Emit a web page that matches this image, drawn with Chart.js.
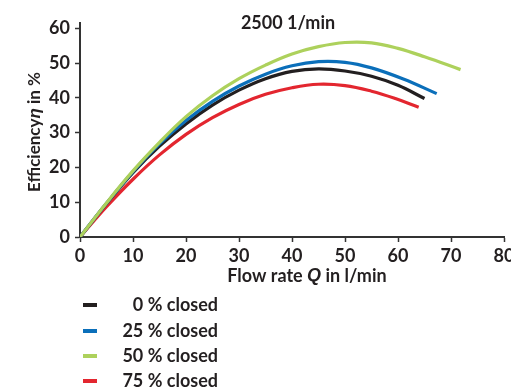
<!DOCTYPE html>
<html>
<head>
<meta charset="utf-8">
<script src="https://cdn.jsdelivr.net/npm/chart.js@4/dist/chart.umd.min.js"></script>
<style>
html,body{margin:0;padding:0;background:#fff;}
#wrap{width:511px;height:387px;position:relative;}
</style>
</head>
<body>
<div id="wrap"><canvas id="c" width="511" height="387"></canvas></div>
<script>
const chartTitle = "2500 1/min";
const seriesLabels = ["0 % closed", "25 % closed", "50 % closed", "75 % closed"];
const seriesColors = ["#231f20", "#0b6fba", "#add15c", "#e3262f"];
const xTicks = [0, 10, 20, 30, 40, 50, 60, 70, 80];
const yTicks = [0, 10, 20, 30, 40, 50, 60];

const qClosed0   = [0, 5, 10, 15, 20, 25, 30, 35, 40, 45, 50, 55, 60, 65];
const etaClosed0 = [0, 9.6, 18.5, 26.1, 32.5, 37.9, 42.2, 45.5, 47.6, 48.3, 47.7, 46.2, 43.6, 39.8];

const qClosed25   = [0, 5, 10, 15, 20, 25, 30, 35, 40, 45, 50, 55, 61, 67.3];
const etaClosed25 = [0, 9.7, 18.8, 26.8, 33.5, 39.0, 43.4, 46.8, 49.2, 50.4, 50.2, 48.6, 45.4, 41.2];

const qClosed50   = [0, 5, 10, 15, 20, 25, 30, 35, 40, 45, 50, 55, 60, 65, 71.8];
const etaClosed50 = [0, 9.8, 19.0, 27.2, 34.6, 40.6, 45.5, 49.4, 52.6, 54.7, 55.9, 55.8, 54.2, 51.8, 48.1];

const qClosed75   = [0, 5, 10, 15, 20, 25, 30, 35, 40, 45, 50, 55, 59.5, 63.9];
const etaClosed75 = [0, 8.7, 16.6, 23.6, 29.5, 34.3, 38.1, 41.0, 42.9, 43.9, 43.5, 41.9, 39.8, 37.3];

const qSets = [qClosed0, qClosed25, qClosed50, qClosed75];
const etaSets = [etaClosed0, etaClosed25, etaClosed50, etaClosed75];

const FONT = "Lato, 'Open Sans', sans-serif";
const IFONT = "'Liberation Sans', 'DejaVu Sans', sans-serif";
const TXT = "#231f20";

const order = [2, 1, 0, 3];
const datasets = order.map(i => ({
  label: seriesLabels[i],
  data: qSets[i].map((q, k) => ({x: q, y: etaSets[i][k]})),
  borderColor: seriesColors[i],
  backgroundColor: seriesColors[i],
  borderWidth: 3.2,
  pointRadius: 0,
  fill: false,
  tension: 0.4,
  borderCapStyle: 'butt'
}));

function drawRuns(ctx, runs, x, y, align) {
  let total = 0;
  runs.forEach(r => { ctx.font = r.f; total += ctx.measureText(r.t).width; });
  let cx = align === 'center' ? x - total / 2 : (align === 'right' ? x - total : x);
  ctx.textAlign = 'left';
  runs.forEach(r => { ctx.font = r.f; ctx.fillText(r.t, cx, y); cx += ctx.measureText(r.t).width; });
}

const decor = {
  id: 'decor',
  afterDraw(chart) {
    const ctx = chart.ctx, a = chart.chartArea;
    ctx.save();
    ctx.fillStyle = TXT;
    ctx.textBaseline = 'middle';
    ctx.font = "bold 18px " + FONT;
    ctx.textAlign = 'center';
    ctx.fillText(chartTitle, (a.left + a.right) / 2 - 4, a.top);
    const B = "bold 18px " + FONT, BI = "italic bold 18px " + IFONT;
    drawRuns(ctx, [{t: "Flow rate ", f: B}, {t: "Q", f: BI}, {t: " in l/min", f: B}], 307, a.bottom + 39, 'center');
    ctx.save();
    ctx.translate(35, (a.top + a.bottom) / 2 + 2);
    ctx.rotate(-Math.PI / 2);
    const B2 = "bold 17px " + FONT, BI2 = "italic bold 17px " + IFONT;
    drawRuns(ctx, [{t: "Efficiency", f: B2}, {t: "η", f: BI2}, {t: " in %", f: B2}], 0, 0, 'center');
    ctx.restore();
    const ys = [305, 331, 356, 381];
    for (let i = 0; i < 4; i++) {
      ctx.fillStyle = seriesColors[i];
      ctx.fillRect(83, ys[i] - 2, 14, 4);
      ctx.fillStyle = TXT;
      ctx.font = B;
      ctx.textAlign = 'right';
      ctx.fillText(seriesLabels[i], 218, ys[i]);
    }
    ctx.restore();
  }
};

new Chart(document.getElementById('c'), {
  type: 'line',
  data: { datasets },
  options: {
    responsive: false,
    animation: false,
    layout: { padding: { top: 23, right: 7, bottom: 0, left: 0 } },
    plugins: { legend: { display: false }, tooltip: { enabled: false } },
    scales: {
      x: {
        type: 'linear', min: 0, max: 80,
        afterFit(s) { s.height = 150; s.paddingRight = 0; s.paddingLeft = 0; },
        afterBuildTicks(s) { s.ticks = xTicks.map(v => ({value: v})); },
        border: { display: true, color: '#333', width: 2 },
        grid: { display: true, drawOnChartArea: false, drawTicks: true, tickLength: 5, color: '#333', tickWidth: 1.5 },
        ticks: { color: TXT, font: { family: FONT, size: 18, weight: 'bold' }, padding: 3, maxRotation: 0, autoSkip: false }
      },
      y: {
        type: 'linear', min: 0, max: 61.5,
        afterFit(s) { s.width = 80; s.paddingTop = 0; },
        afterBuildTicks(s) { s.ticks = yTicks.map(v => ({value: v})); },
        border: { display: true, color: '#333', width: 2 },
        grid: { display: true, drawOnChartArea: false, drawTicks: true, tickLength: 5, color: '#333', tickWidth: 1.5 },
        ticks: { color: TXT, font: { family: FONT, size: 18, weight: 'bold' }, padding: 5 }
      }
    }
  },
  plugins: [decor]
});
</script>
</body>
</html>
